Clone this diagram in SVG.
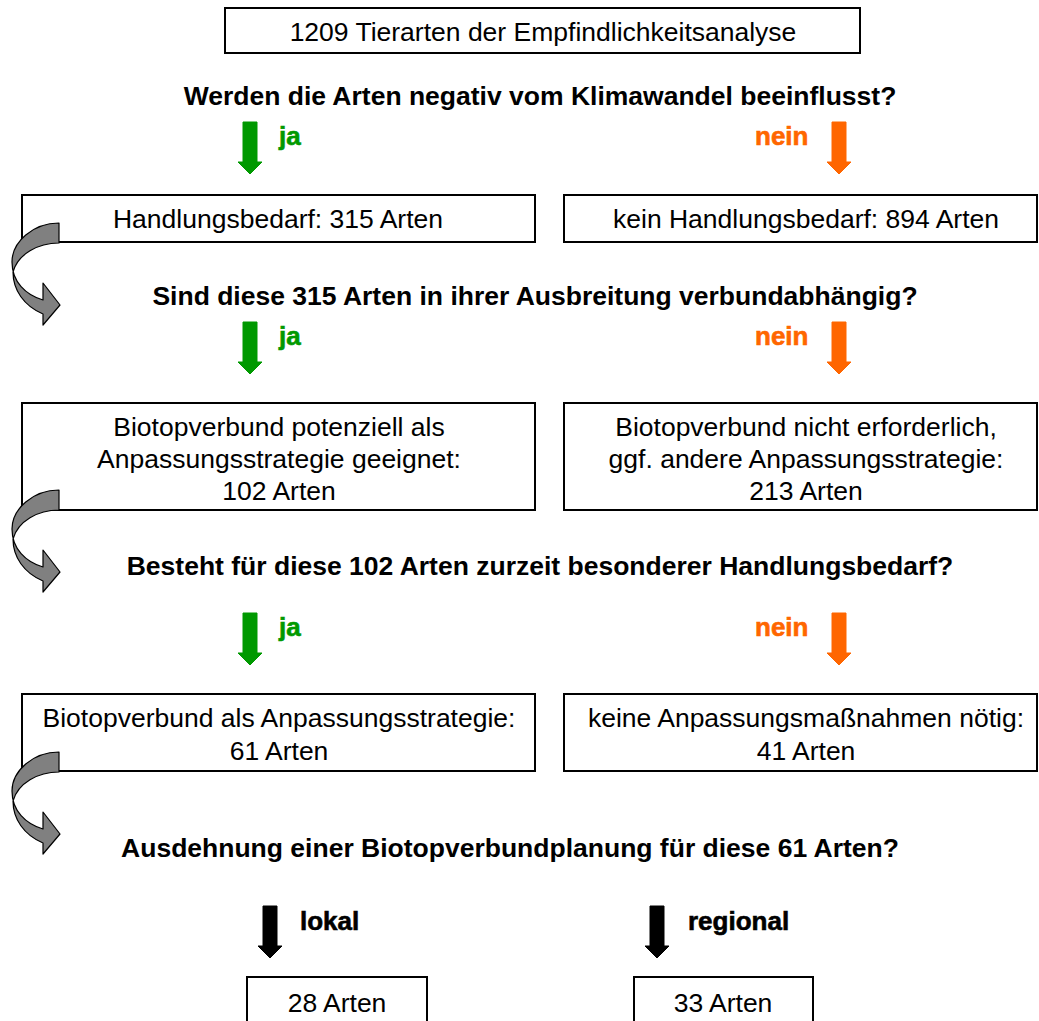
<svg xmlns="http://www.w3.org/2000/svg" width="1039" height="1021" viewBox="0 0 1039 1021">
<defs>
<style>
.box{fill:#fff;stroke:#000;stroke-width:2}
.t{font-family:"Liberation Sans",Arial,sans-serif;font-size:26.5px;fill:#000;text-anchor:middle}
.q{font-family:"Liberation Sans",Arial,sans-serif;font-size:26.5px;font-weight:bold;fill:#000;text-anchor:middle}
.lbl{font-family:"Liberation Sans",Arial,sans-serif;font-size:26px;font-weight:bold;stroke-width:0.6}
.g{fill:#009900;stroke:#009900}
.o{fill:#ff6600;stroke:#ff6600}
.k{fill:#000;stroke:#000}
.curve{fill:#808080;stroke:#000;stroke-width:1.2;stroke-linejoin:round}
</style>
<path id="curl" d="M59,223 C33,223 12,242 12,262 C12,282 26,295 43,300 L43,283 L60,305 L43,325 L43,314 C24,306 13,290 13,272 C18,254 38,243 59,243 Z"/>
<path id="darr" d="M-7,0 H7 V40 H12 L0,52 L-12,40 H-7 Z"/>
</defs>

<g id="top">
<rect class="box" x="225" y="8" width="635" height="45"/>
<text class="t" x="543" y="41">1209 Tierarten der Empfindlichkeitsanalyse</text>
</g>

<g id="q1"><text class="q" x="540" y="105">Werden die Arten negativ vom Klimawandel beeinflusst?</text></g>

<g id="box1l">
<rect class="box" x="22" y="195" width="513" height="47"/>
<text class="t" x="278" y="228">Handlungsbedarf: 315 Arten</text>
</g>
<g id="box1r">
<rect class="box" x="564" y="195" width="473" height="47"/>
<text class="t" x="806" y="228">kein Handlungsbedarf: 894 Arten</text>
</g>

<g id="q2"><text class="q" x="535" y="305">Sind diese 315 Arten in ihrer Ausbreitung verbundabhängig?</text></g>

<g id="box2l">
<rect class="box" x="22" y="403" width="513" height="107"/>
<text class="t" x="279" y="436">Biotopverbund potenziell als</text>
<text class="t" x="279" y="468">Anpassungsstrategie geeignet:</text>
<text class="t" x="279" y="500">102 Arten</text>
</g>
<g id="box2r">
<rect class="box" x="564" y="403" width="473" height="107"/>
<text class="t" x="806" y="436">Biotopverbund nicht erforderlich,</text>
<text class="t" x="806" y="468">ggf. andere Anpassungsstrategie:</text>
<text class="t" x="806" y="500">213 Arten</text>
</g>

<g id="q3"><text class="q" x="540" y="575">Besteht für diese 102 Arten zurzeit besonderer Handlungsbedarf?</text></g>

<g id="box3l">
<rect class="box" x="22" y="694" width="513" height="77"/>
<text class="t" x="279" y="727">Biotopverbund als Anpassungsstrategie:</text>
<text class="t" x="279" y="760">61 Arten</text>
</g>
<g id="box3r">
<rect class="box" x="564" y="694" width="473" height="77"/>
<text class="t" x="806" y="727">keine Anpassungsmaßnahmen nötig:</text>
<text class="t" x="806" y="760">41 Arten</text>
</g>

<g id="q4"><text class="q" x="510" y="857">Ausdehnung einer Biotopverbundplanung für diese 61 Arten?</text></g>

<g id="box4l">
<rect class="box" x="247" y="977" width="180" height="60"/>
<text class="t" x="337" y="1012">28 Arten</text>
</g>
<g id="box4r">
<rect class="box" x="634" y="977" width="179" height="60"/>
<text class="t" x="723" y="1012">33 Arten</text>
</g>

<g id="connectors">
<use href="#darr" class="g" x="250" y="122"/>
<text class="lbl g" x="279" y="145">ja</text>
<use href="#darr" class="o" x="839" y="122"/>
<text class="lbl o" x="755" y="145">nein</text>

<use href="#darr" class="g" x="250" y="322"/>
<text class="lbl g" x="279" y="345">ja</text>
<use href="#darr" class="o" x="839" y="322"/>
<text class="lbl o" x="755" y="345">nein</text>

<use href="#darr" class="g" x="250" y="613"/>
<text class="lbl g" x="279" y="636">ja</text>
<use href="#darr" class="o" x="839" y="613"/>
<text class="lbl o" x="755" y="636">nein</text>

<use href="#darr" class="k" x="270" y="906"/>
<text class="lbl k" x="300" y="930">lokal</text>
<use href="#darr" class="k" x="657" y="906"/>
<text class="lbl k" x="688" y="930">regional</text>

<use href="#curl" class="curve"/>
<use href="#curl" class="curve" y="267"/>
<use href="#curl" class="curve" y="529"/>
</g>
</svg>
